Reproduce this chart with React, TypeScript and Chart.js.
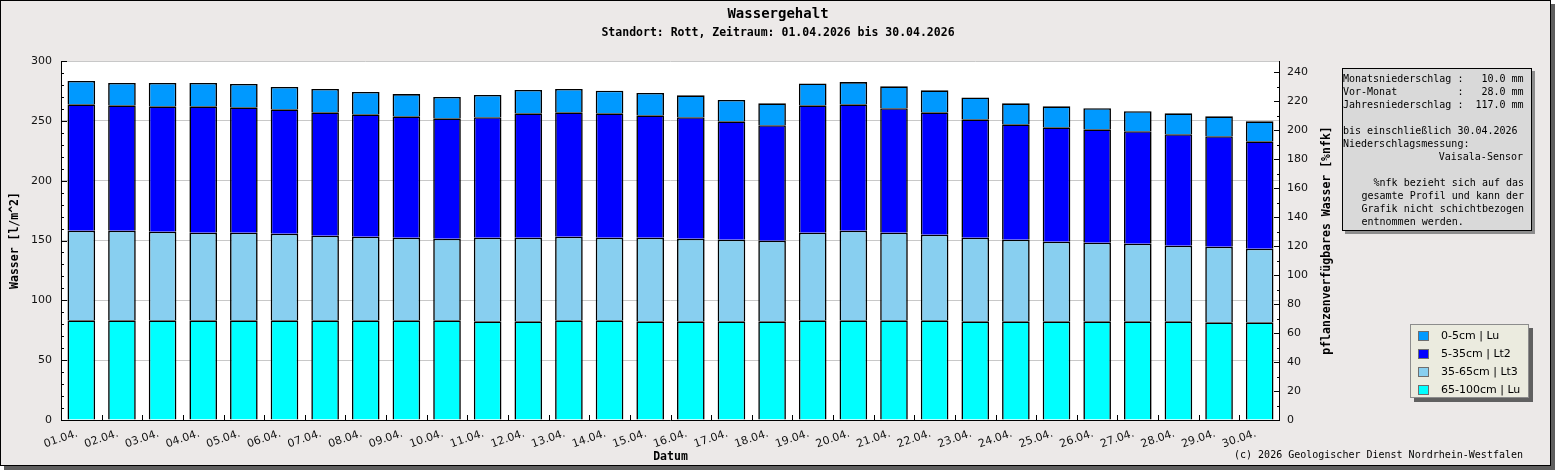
import { useEffect, useRef } from 'react';
import { Chart, registerables, type Plugin } from 'chart.js';

Chart.register(...registerables);

// Tage im April
const days = [
  '01.04.', '02.04.', '03.04.', '04.04.', '05.04.', '06.04.', '07.04.', '08.04.', '09.04.', '10.04.',
  '11.04.', '12.04.', '13.04.', '14.04.', '15.04.', '16.04.', '17.04.', '18.04.', '19.04.', '20.04.',
  '21.04.', '22.04.', '23.04.', '24.04.', '25.04.', '26.04.', '27.04.', '28.04.', '29.04.', '30.04.',
];

// Wasser [l/m^2] je Schicht (gestapelt, von unten nach oben)
const layer65to100 = [
  83.3, 83.3, 83.3, 83.3, 83.3, 83.3, 83.3, 83.3, 83.3, 83.3,
  82.5, 82.5, 83.3, 83.3, 82.5, 82.5, 82.5, 82.5, 83.3, 83.3,
  83.3, 83.3, 82.5, 82.5, 82.5, 82.5, 82.5, 82.5, 81.6, 81.6,
];
const layer35to65 = [
  74.9, 74.9, 74.1, 73.2, 73.2, 72.4, 70.7, 69.9, 69.0, 68.2,
  69.8, 69.8, 69.9, 69.0, 69.8, 69.0, 68.2, 67.3, 73.2, 74.9,
  73.2, 71.5, 69.8, 68.2, 66.5, 65.7, 64.8, 63.1, 63.2, 61.5,
];
const layer5to35 = [
  105.6, 104.8, 104.7, 105.6, 104.8, 103.9, 103.1, 102.2, 101.5, 100.6,
  100.7, 104.0, 103.9, 104.0, 102.3, 101.5, 98.9, 96.5, 106.5, 105.6,
  104.0, 102.3, 99.0, 96.4, 95.6, 94.7, 94.0, 93.2, 92.3, 89.8,
];
const layer0to5 = [
  19.5, 18.6, 19.5, 19.5, 19.5, 18.7, 19.5, 18.7, 18.6, 17.8,
  18.6, 19.5, 19.5, 18.9, 18.7, 18.3, 17.8, 18.3, 18.3, 18.6,
  18.3, 18.4, 18.3, 17.5, 17.5, 17.6, 16.7, 17.5, 16.7, 16.7,
];

const layerNames = ['0-5cm | Lu', '5-35cm | Lt2', '35-65cm | Lt3', '65-100cm | Lu'];
const layerColors = ['#0099ff', '#0000ff', '#88cff0', '#00ffff'];

// Achsen
const leftTickLabels = [0, 50, 100, 150, 200, 250, 300];
const rightTickLabels = [0, 20, 40, 60, 80, 100, 120, 140, 160, 180, 200, 220, 240];
const leftMax = 300;
const rightMax = 247.8; // %nfk-Achse, gleiche Höhe wie 300 l/m^2

const infoLines: [string, string, number][] = [
  ['Monatsniederschlag :   10.0 mm', 'left', 79],
  ['Vor-Monat          :   28.0 mm', 'left', 92.5],
  ['Jahresniederschlag :  117.0 mm', 'left', 105.5],
  ['bis einschließlich 30.04.2026', 'left', 131],
  ['Niederschlagsmessung:', 'left', 144.3],
  ['Vaisala-Sensor', 'right', 157.3],
  ['  %nfk bezieht sich auf das', 'indent', 183.3],
  ['gesamte Profil und kann der', 'indent', 196.5],
  ['Grafik nicht schichtbezogen', 'indent', 209.5],
  ['entnommen werden.', 'indent', 222.5],
];

const MONO = '"DejaVu Sans Mono", monospace';
const SANS = '"DejaVu Sans", sans-serif';

const framePlugin: Plugin<'bar'> = {
  id: 'frame',
  beforeDraw: (chart) => {
    const { ctx, width, height, chartArea } = chart;
    ctx.save();
    // Schatten + Hintergrund + Rahmen
    ctx.fillStyle = '#5e5e5e';
    ctx.fillRect(4, 4, width - 4, height - 4);
    ctx.fillStyle = '#ece9e8';
    ctx.fillRect(0, 0, 1551, 466);
    ctx.strokeStyle = '#000';
    ctx.lineWidth = 1;
    ctx.strokeRect(0.5, 0.5, 1550, 465);
    ctx.fillStyle = '#fff';
    ctx.fillRect(chartArea.left, chartArea.top, chartArea.right - chartArea.left, chartArea.bottom - chartArea.top);
    ctx.restore();
  },
  afterDraw: (chart) => {
    const { ctx, chartArea } = chart;
    const x = chart.scales.x;
    const y = chart.scales.y;
    const y2 = chart.scales.y2;
    const { left, right, top, bottom } = chartArea;
    ctx.save();

    // Achsenlinien
    ctx.strokeStyle = '#000';
    ctx.lineWidth = 1;
    ctx.beginPath();
    ctx.moveTo(left + 0.5, top);
    ctx.lineTo(left + 0.5, bottom + 0.5);
    ctx.lineTo(right - 0.5, bottom + 0.5);
    ctx.lineTo(right - 0.5, top);
    ctx.stroke();

    // Teilstriche (Haupt- und Zwischenstriche)
    ctx.beginPath();
    for (let v = 0; v <= leftMax; v += 10) {
      const py = Math.round(y.getPixelForValue(v)) + 0.5;
      const len = leftTickLabels.includes(v) ? 6 : 3;
      ctx.moveTo(left, py);
      ctx.lineTo(left + len, py);
    }
    for (let v = 0; v <= 240; v += 10) {
      const py = Math.round(y2.getPixelForValue(v)) + 0.5;
      const len = rightTickLabels.includes(v) ? 6 : 3;
      ctx.moveTo(right, py);
      ctx.lineTo(right - len, py);
    }
    for (let i = 1; i < days.length; i++) {
      const px = Math.round((x.getPixelForValue(i - 1) + x.getPixelForValue(i)) / 2) + 0.5;
      ctx.moveTo(px, bottom);
      ctx.lineTo(px, bottom - 5);
    }
    ctx.stroke();

    // Datumsbeschriftung, schräg
    ctx.fillStyle = '#111';
    ctx.font = `11px ${SANS}`;
    ctx.textAlign = 'right';
    ctx.textBaseline = 'alphabetic';
    days.forEach((d, i) => {
      const cx = x.getPixelForValue(i);
      ctx.save();
      ctx.translate(cx - 3, 436);
      ctx.rotate((-19 * Math.PI) / 180);
      ctx.fillText(d, 0, 0);
      ctx.restore();
    });

    // Titel
    ctx.fillStyle = '#000';
    ctx.textAlign = 'center';
    ctx.textBaseline = 'middle';
    ctx.font = `bold 14px ${MONO}`;
    ctx.fillText('Wassergehalt', 778, 14);
    ctx.font = `bold 11.5px ${MONO}`;
    ctx.fillText('Standort: Rott, Zeitraum: 01.04.2026 bis 30.04.2026', 778, 33);
    ctx.fillText('Datum', (left + right) / 2, 457);

    ctx.save();
    ctx.translate(15, (top + bottom) / 2);
    ctx.rotate(-Math.PI / 2);
    ctx.fillText('Wasser [l/m^2]', 0, 0);
    ctx.restore();
    ctx.save();
    ctx.translate(1327, (top + bottom) / 2);
    ctx.rotate(-Math.PI / 2);
    ctx.fillText('pflanzenverfügbares Wasser [%nfk]', 0, 0);
    ctx.restore();

    ctx.font = `10px ${MONO}`;
    ctx.textAlign = 'right';
    ctx.fillText('(c) 2026 Geologischer Dienst Nordrhein-Westfalen', 1523, 455);

    // Infobox
    ctx.fillStyle = '#8c8c8c';
    ctx.fillRect(1345, 71, 190, 163);
    ctx.fillStyle = '#d9d9d9';
    ctx.fillRect(1342, 68, 190, 163);
    ctx.strokeStyle = '#000';
    ctx.strokeRect(1342.5, 68.5, 189, 162);
    ctx.fillStyle = '#000';
    ctx.font = `10px ${MONO}`;
    infoLines.forEach(([text, align, ly]) => {
      if (align === 'right') {
        ctx.textAlign = 'right';
        ctx.fillText(text, 1523, ly);
      } else if (align === 'indent') {
        ctx.textAlign = 'left';
        ctx.fillText(text, 1361.5, ly);
      } else {
        ctx.textAlign = 'left';
        ctx.fillText(text, 1343, ly);
      }
    });

    // Legende
    ctx.fillStyle = '#606060';
    ctx.fillRect(1414, 328, 119, 74);
    ctx.fillStyle = '#ebebdf';
    ctx.fillRect(1410, 324, 119, 74);
    ctx.strokeStyle = '#8c8c8c';
    ctx.strokeRect(1410.5, 324.5, 118, 73);
    ctx.font = `11px ${SANS}`;
    ctx.textAlign = 'left';
    layerNames.forEach((name, i) => {
      const cy = 335.7 + i * 18;
      ctx.fillStyle = layerColors[i];
      ctx.fillRect(1418, Math.round(cy - 5), 11, 10);
      ctx.strokeStyle = '#6e6e6e';
      ctx.strokeRect(1418.5, Math.round(cy - 5) + 0.5, 10, 9);
      ctx.fillStyle = '#000';
      ctx.fillText(name, 1441, cy);
    });

    ctx.restore();
  },
};

const App = () => {
  const canvasRef = useRef<HTMLCanvasElement | null>(null);

  useEffect(() => {
    if (!canvasRef.current) return;

    const bar = (label: string, data: number[], color: string) => ({
      label,
      data,
      backgroundColor: color,
      borderColor: '#000',
      borderWidth: 1.6,
      barPercentage: 0.68,
      categoryPercentage: 1,
    });

    const chart = new Chart(canvasRef.current, {
      type: 'bar',
      data: {
        labels: days,
        datasets: [
          bar(layerNames[3], layer65to100, layerColors[3]),
          bar(layerNames[2], layer35to65, layerColors[2]),
          bar(layerNames[1], layer5to35, layerColors[1]),
          bar(layerNames[0], layer0to5, layerColors[0]),
        ],
      },
      options: {
        responsive: false,
        animation: false,
        devicePixelRatio: 1,
        layout: { padding: { top: 61, left: 0, right: 0, bottom: 0 } },
        plugins: {
          legend: { display: false },
          tooltip: { enabled: false },
        },
        scales: {
          x: {
            stacked: true,
            grid: { display: false },
            border: { display: false },
            ticks: { display: false },
            afterFit: (scale) => {
              scale.height = 50;
            },
          },
          y: {
            stacked: true,
            position: 'left',
            min: 0,
            max: leftMax,
            border: { display: false },
            grid: { drawTicks: false, color: '#c8c8c8' },
            ticks: {
              autoSkip: false,
              padding: 9,
              color: '#111',
              font: { family: SANS, size: 11 },
            },
            afterBuildTicks: (scale) => {
              scale.ticks = leftTickLabels.map((value) => ({ value }));
            },
            afterFit: (scale) => {
              scale.width = 61;
            },
          },
          y2: {
            position: 'right',
            min: 0,
            max: rightMax,
            border: { display: false },
            grid: { drawOnChartArea: false, drawTicks: false },
            ticks: {
              autoSkip: false,
              padding: 7,
              color: '#111',
              font: { family: SANS, size: 11 },
            },
            afterBuildTicks: (scale) => {
              scale.ticks = rightTickLabels.map((value) => ({ value }));
            },
            afterFit: (scale) => {
              scale.width = 275;
            },
          },
        },
      },
      plugins: [framePlugin],
    });

    return () => {
      chart.destroy();
    };
  }, []);

  return (
    <div style={{ position: 'absolute', left: 0, top: 0, width: 1555, height: 470 }}>
      <canvas ref={canvasRef} width={1555} height={470} style={{ display: 'block', width: 1555, height: 470 }} />
    </div>
  );
};

export default App;
